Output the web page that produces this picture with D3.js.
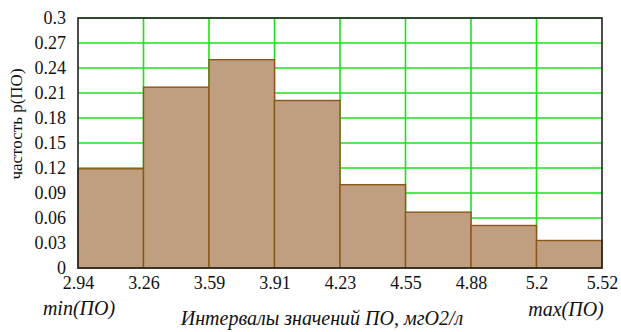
<!DOCTYPE html>
<html>
<head>
<meta charset="utf-8">
<script src="https://cdn.jsdelivr.net/npm/d3@7"></script>
<style>
  body { margin: 0; background: #fff; }
  text { font-family: "Liberation Serif", "Times New Roman", serif; fill: #111; }
</style>
</head>
<body>
<div id="chart"></div>
<script>
// bin edges (labels as printed) and relative frequencies
const edgeLabels = ['2.94', '3.26', '3.59', '3.91', '4.23', '4.55', '4.88', '5.2', '5.52'];
const freq = [0.119, 0.217, 0.25, 0.201, 0.1, 0.067, 0.051, 0.033];
const yTicks = [0, 0.03, 0.06, 0.09, 0.12, 0.15, 0.18, 0.21, 0.24, 0.27, 0.3];
const yTickLabels = ['0', '0.03', '0.06', '0.09', '0.12', '0.15', '0.18', '0.21', '0.24', '0.27', '0.3'];

const W = 621, H = 332;
const pL = 78, pR = 602, pT = 18, pB = 268;

const svg = d3.select('#chart').append('svg')
  .attr('width', W)
  .attr('height', H);

const x = d3.scaleLinear().domain([0, freq.length]).range([pL, pR]);
const y = d3.scaleLinear().domain([0, 0.3]).range([pB, pT]);

// grid
svg.append('g')
  .selectAll('line')
  .data(yTicks.slice(1))
  .enter().append('line')
  .attr('x1', pL).attr('x2', pR)
  .attr('y1', d => y(d)).attr('y2', d => y(d))
  .attr('stroke', '#1de01d')
  .attr('stroke-width', 1.6);

svg.append('g')
  .selectAll('line')
  .data(d3.range(1, freq.length))
  .enter().append('line')
  .attr('x1', d => x(d)).attr('x2', d => x(d))
  .attr('y1', pT).attr('y2', pB)
  .attr('stroke', '#1de01d')
  .attr('stroke-width', 1.6);

// bars
svg.append('g')
  .selectAll('rect')
  .data(freq)
  .enter().append('rect')
  .attr('x', (d, i) => x(i))
  .attr('y', d => y(d))
  .attr('width', (d, i) => x(i + 1) - x(i))
  .attr('height', d => pB - y(d))
  .attr('fill', '#c09f80')
  .attr('stroke', '#8a5518')
  .attr('stroke-width', 1.4);

// frame
svg.append('rect')
  .attr('x', pL).attr('y', pT)
  .attr('width', pR - pL).attr('height', pB - pT)
  .attr('fill', 'none')
  .attr('stroke', '#222')
  .attr('stroke-width', 1.6);

// axes (labels only)
const xAxis = d3.axisBottom(x)
  .tickValues(d3.range(freq.length + 1))
  .tickFormat(i => edgeLabels[i])
  .tickSize(0).tickPadding(8);
const gx = svg.append('g')
  .attr('transform', `translate(0,${pB})`)
  .call(xAxis);
gx.select('.domain').remove();
gx.selectAll('text')
  .style('font-family', '"Liberation Serif", serif')
  .style('font-size', '18px')
  .attr('fill', '#111');

const yAxis = d3.axisLeft(y)
  .tickValues(yTicks)
  .tickFormat((d, i) => yTickLabels[i])
  .tickSize(0).tickPadding(12);
const gy = svg.append('g')
  .attr('transform', `translate(${pL},0)`)
  .call(yAxis);
gy.select('.domain').remove();
gy.selectAll('text')
  .style('font-family', '"Liberation Serif", serif')
  .style('font-size', '18px')
  .attr('fill', '#111');

// axis titles
svg.append('text')
  .attr('transform', 'translate(22,124) rotate(-90)')
  .attr('text-anchor', 'middle')
  .style('font-size', '17px')
  .text('частость p(ПО)');

svg.append('text')
  .attr('x', 79).attr('y', 315)
  .attr('text-anchor', 'middle')
  .style('font-size', '20px')
  .style('font-style', 'italic')
  .text('min(ПО)');

svg.append('text')
  .attr('x', 566).attr('y', 316)
  .attr('text-anchor', 'middle')
  .style('font-size', '20px')
  .style('font-style', 'italic')
  .text('max(ПО)');

svg.append('text')
  .attr('x', 322).attr('y', 325)
  .attr('text-anchor', 'middle')
  .style('font-size', '20px')
  .style('font-style', 'italic')
  .text('Интервалы значений ПО, мгО2/л');
</script>
</body>
</html>
